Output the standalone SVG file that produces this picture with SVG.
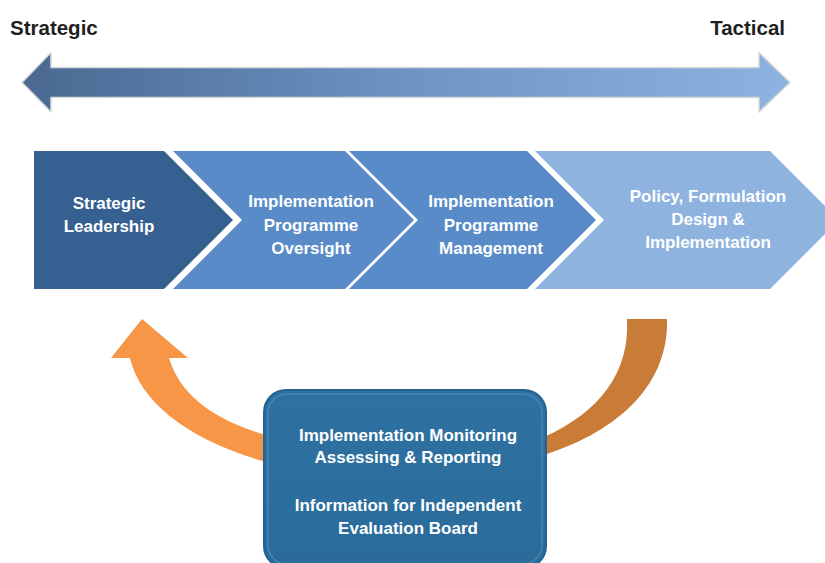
<svg xmlns="http://www.w3.org/2000/svg" width="825" height="563" viewBox="0 0 825 563">
<defs>
<linearGradient id="barGrad" x1="0" y1="0" x2="1" y2="0">
<stop offset="0" stop-color="#4a6891"/>
<stop offset="0.5" stop-color="#6d94c4"/>
<stop offset="1" stop-color="#8db4e0"/>
</linearGradient>
<linearGradient id="boxGrad" x1="0" y1="0" x2="0" y2="1">
<stop offset="0" stop-color="#2e72a2"/>
<stop offset="1" stop-color="#2a6b9a"/>
</linearGradient>
</defs>
<style>
.lbl{font-family:"Liberation Sans",Arial,sans-serif;font-weight:bold;font-size:17px;fill:#ffffff;text-anchor:middle}
.axis{font-family:"Liberation Sans",Arial,sans-serif;font-weight:bold;font-size:20.5px;fill:#1f1f1f}
</style>
<rect width="825" height="563" fill="#ffffff"/>

<g id="axis">
<path d="M22,82.5 L51,52.5 L51,67.5 L759,67.5 L759,52.5 L790,82.5 L759,112 L759,97.5 L51,97.5 L51,112 Z" fill="url(#barGrad)" stroke="#d9d9d9" stroke-width="1.5" stroke-linejoin="round"/>
<text class="axis" x="10" y="35">Strategic</text>
<text class="axis" x="785" y="35" text-anchor="end">Tactical</text>
</g>

<g id="connectors">
<path d="M130,358 C140,402 188,440 266,462 L266,435 C214,420 180,395 169,358 L188,358 L142,319 L111,358 Z" fill="#f79646"/>
<path d="M627,319 L667,319 C669,382 622,430 544,455 L544,437 C600,412 630,372 627,319 Z" fill="#c97b38"/>
</g>

<g id="node-strategic-leadership">
<path d="M34,151 L164,151 L233,220 L164,289 L34,289 Z" fill="#365f92"/>
<text class="lbl" x="109" y="209">Strategic</text>
<text class="lbl" x="109" y="232">Leadership</text>
</g>

<g id="node-programme-oversight">
<path d="M173,151 L345,151 L414,220 L345,289 L173,289 L242,220 Z" fill="#588bc8"/>
<text class="lbl" x="311" y="207">Implementation</text>
<text class="lbl" x="311" y="231">Programme</text>
<text class="lbl" x="311" y="254">Oversight</text>
</g>

<g id="node-programme-management">
<path d="M349,151 L527,151 L596,220 L527,289 L349,289 L418,220 Z" fill="#588bc8"/>
<text class="lbl" x="491" y="207">Implementation</text>
<text class="lbl" x="491" y="231">Programme</text>
<text class="lbl" x="491" y="254">Management</text>
</g>

<g id="node-policy">
<path d="M535,151 L770,151 L839,220 L770,289 L535,289 L604,220 Z" fill="#8eb3de"/>
<text class="lbl" x="708" y="202">Policy, Formulation</text>
<text class="lbl" x="708" y="225">Design &amp;</text>
<text class="lbl" x="708" y="248">Implementation</text>
</g>

<g id="node-monitoring">
<rect x="264" y="390" width="282" height="178" rx="22" fill="url(#boxGrad)" stroke="#26628f" stroke-width="2"/>
<rect x="268" y="394" width="274" height="170" rx="19" fill="none" stroke="#4f8fc0" stroke-width="1.5" opacity="0.7"/>
<text class="lbl" x="408" y="441">Implementation Monitoring</text>
<text class="lbl" x="408" y="463">Assessing &amp; Reporting</text>
<text class="lbl" x="408" y="511">Information for Independent</text>
<text class="lbl" x="408" y="534">Evaluation Board</text>
</g>
</svg>
